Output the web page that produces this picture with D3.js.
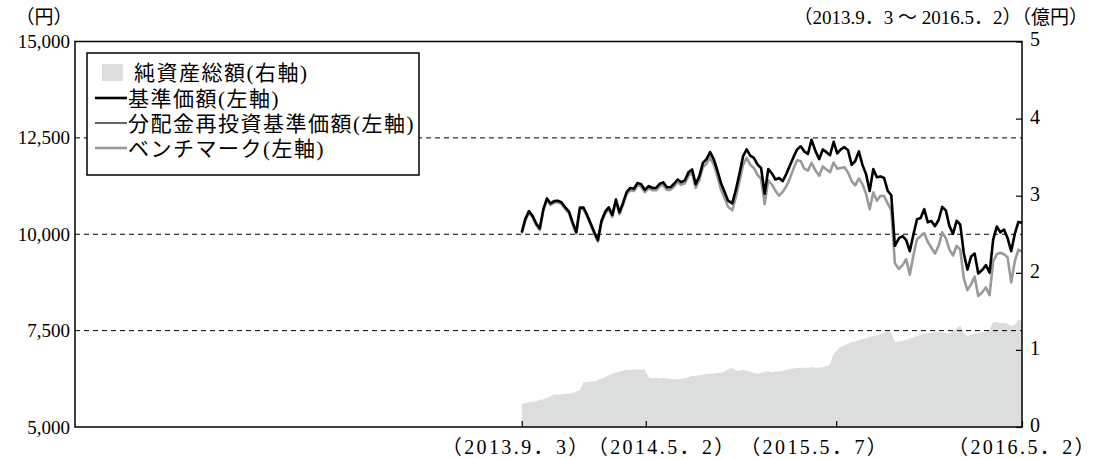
<!DOCTYPE html>
<html><head><meta charset="utf-8">
<script src="https://cdn.jsdelivr.net/npm/d3@7"></script>
<style>
body{margin:0;background:#fff;}
</style></head><body>
<svg id="c" width="1101" height="459"></svg>
<script>
// ---- data (weekly points, 2013.9.3 – 2016.5.2) ----
const firstDate = "2013-09-03";
const lastDate = "2016-05-02";
const baseValues = [10050,10400,10600,10480,10280,10150,10650,10930,10800,10860,10870,10830,10690,10580,10300,10060,10690,10695,10500,10280,10050,9850,10350,10580,10700,10500,10900,10570,10820,11100,11200,11180,11330,11300,11150,11250,11200,11200,11310,11345,11220,11220,11310,11420,11350,11400,11605,11680,11300,11500,11850,11950,12130,11950,11660,11330,11100,10870,10800,11150,11570,12020,12200,12040,11980,11810,11720,11050,11690,11580,11420,11460,11380,11560,11780,12000,12200,12280,12150,12080,12450,12150,11950,12200,12130,12050,12400,12100,12200,12260,12180,11800,11900,12150,11800,11560,11120,11690,11480,11500,11460,11130,11010,9700,9900,9950,9850,9560,9990,10390,10420,10650,10310,10345,10210,10370,10710,10620,10210,10010,10350,10250,9500,9080,9420,9500,8980,9080,9200,9000,9860,10200,10050,10120,9900,9560,10010,10320,10300];
const reinvestedValues = [10050,10400,10600,10480,10280,10150,10650,10930,10800,10860,10870,10830,10690,10580,10300,10060,10690,10695,10500,10280,10050,9850,10350,10580,10700,10500,10900,10570,10820,11100,11200,11180,11330,11300,11150,11250,11200,11200,11310,11345,11220,11220,11310,11420,11350,11400,11605,11680,11300,11500,11850,11950,12130,11950,11660,11330,11100,10870,10800,11150,11570,12020,12200,12040,11980,11810,11720,11050,11690,11580,11420,11460,11380,11560,11780,12000,12200,12280,12150,12080,12450,12150,11950,12200,12130,12050,12400,12100,12200,12260,12180,11800,11900,12150,11800,11560,11120,11690,11480,11500,11460,11130,11010,9700,9900,9950,9850,9560,9990,10390,10420,10650,10310,10345,10210,10370,10710,10620,10210,10010,10350,10250,9500,9080,9420,9500,8980,9080,9200,9000,9860,10200,10050,10120,9900,9560,10010,10320,10300];
const benchmarkValues = [10020,10360,10560,10440,10240,10110,10610,10890,10760,10820,10830,10790,10650,10540,10260,10020,10650,10650,10460,10240,10010,9810,10300,10530,10650,10450,10850,10520,10770,11050,11140,11120,11270,11240,11090,11190,11140,11140,11250,11280,11150,11150,11240,11350,11280,11320,11520,11590,11200,11400,11740,11830,11990,11810,11510,11170,10940,10710,10620,10960,11370,11800,11980,11800,11720,11540,11440,10780,11400,11290,11130,11000,11100,11240,11450,11700,11920,11900,11700,11650,11850,11650,11520,11760,11680,11610,11860,11700,11720,11740,11600,11380,11270,11450,11300,11050,10650,11085,10870,11000,10990,10800,10620,9250,9100,9200,9350,8950,9450,9870,9950,10030,9800,9650,9500,9700,10050,9900,9600,9450,9700,9600,8850,8550,8700,8900,8400,8500,8620,8420,9300,9480,9520,9480,9400,8750,9300,9600,9550];
const netAssetValues = [0.30,0.31,0.32,0.33,0.33,0.35,0.36,0.38,0.40,0.42,0.42,0.42,0.43,0.43,0.44,0.46,0.47,0.58,0.58,0.59,0.59,0.61,0.63,0.645,0.67,0.69,0.71,0.72,0.73,0.74,0.74,0.745,0.745,0.745,0.745,0.64,0.635,0.635,0.63,0.635,0.63,0.625,0.62,0.62,0.625,0.635,0.645,0.66,0.665,0.67,0.68,0.685,0.69,0.695,0.70,0.705,0.72,0.75,0.77,0.73,0.73,0.745,0.73,0.715,0.70,0.69,0.70,0.715,0.72,0.71,0.72,0.72,0.73,0.74,0.755,0.76,0.765,0.77,0.77,0.77,0.775,0.77,0.77,0.775,0.79,0.81,0.95,1.00,1.04,1.06,1.08,1.10,1.11,1.13,1.14,1.15,1.17,1.18,1.19,1.20,1.22,1.24,1.22,1.10,1.11,1.12,1.13,1.15,1.16,1.18,1.20,1.21,1.22,1.22,1.23,1.23,1.23,1.22,1.21,1.24,1.28,1.32,1.22,1.18,1.20,1.21,1.22,1.23,1.23,1.27,1.36,1.36,1.35,1.35,1.34,1.31,1.33,1.39,1.39];
const leftTicks = [5000,7500,10000,12500,15000];
const rightTicks = [0,1,2,3,4,5];
const gridValues = [7500,10000,12500];
const xTickDates = ["2013-09-03","2014-05-02","2015-05-07","2016-05-02"];
const xTickLabels = ["（2013.9．3）","（2014.5．2）","（2015.5．7）","（2016.5．2）"];
const legendItems = ["純資産総額(右軸)","基準価額(左軸)","分配金再投資基準価額(左軸)","ベンチマーク(左軸)"];
const leftUnit = "（円）";
const rightHeader = "（2013.9．3 ～ 2016.5．2）（億円）";

// ---- layout ----
const FONT = "'Liberation Serif','DejaVu Serif','Noto Sans CJK JP',serif";
const L = 75, R = 1022, T = 41.5, B = 427;
const parse = d3.timeParse("%Y-%m-%d");
const d0 = parse(firstDate), d1 = parse(lastDate);
const span = d3.timeDay.count(d0, d1);
const n = baseValues.length;
const dates = d3.range(n).map(i => d3.timeDay.offset(d0, Math.round(i * span / (n - 1))));

const x = d3.scaleTime().domain([parse("2011-04-19"), d1]).range([L, R]);
const y = d3.scaleLinear().domain([5000, 15000]).range([B, T]);
const y2 = d3.scaleLinear().domain([0, 5]).range([B, T]);

const svg = d3.select("#c");

// area
svg.append("path")
  .datum(netAssetValues)
  .attr("fill", "#dcdddd")
  .attr("d", d3.area().x((d,i)=>x(dates[i])).y0(y2(0)).y1(d=>y2(d)));

// grid
svg.selectAll("line.grid").data(gridValues).enter().append("line")
  .attr("x1", L).attr("x2", R).attr("y1", d=>y(d)).attr("y2", d=>y(d))
  .attr("stroke", "#000").attr("stroke-width", 1).attr("stroke-dasharray", "5,4");

// lines
const line = vals => d3.line().x((d,i)=>x(dates[i])).y(d=>y(d))(vals);
svg.append("path").attr("d", line(benchmarkValues)).attr("fill","none").attr("stroke","#9a9a9a").attr("stroke-width",2.6).attr("stroke-linejoin","round");
svg.append("path").attr("d", line(baseValues)).attr("fill","none").attr("stroke","#000").attr("stroke-width",2.6).attr("stroke-linejoin","round");
svg.append("path").attr("d", line(reinvestedValues)).attr("fill","none").attr("stroke","#000").attr("stroke-width",1).attr("stroke-linejoin","round");

// frame
svg.append("rect").attr("x", L).attr("y", T).attr("width", R-L).attr("height", B-T)
  .attr("fill","none").attr("stroke","#000").attr("stroke-width",1.5);

// left axis
const gl = svg.append("g").attr("transform", `translate(${L},0)`)
  .call(d3.axisLeft(y).tickValues(leftTicks).tickFormat(d3.format(",")).tickSize(0).tickPadding(5));
gl.select(".domain").remove();
gl.selectAll("text").style("font-family", FONT).style("font-size", "19px").style("fill","#000");

// right axis
const gr = svg.append("g").attr("transform", `translate(${R},0)`)
  .call(d3.axisRight(y2).tickValues(rightTicks).tickFormat(d3.format("d")).tickSize(-6).tickPadding(8));
gr.select(".domain").remove();
gr.selectAll("line").attr("stroke","#000").attr("stroke-width",1.2);
gr.selectAll("text").style("font-family", FONT).style("font-size", "20px").style("fill","#000").attr("dy","0.22em");

// bottom axis
const labelShift = [-6, 16, -22, 0];
const tickDates = xTickDates.map(parse);
const gb = svg.append("g").attr("transform", `translate(0,${B})`)
  .call(d3.axisBottom(x).tickValues(tickDates).tickFormat((d,i)=>xTickLabels[i]).tickSize(-6).tickPadding(13));
gb.select(".domain").remove();
gb.selectAll("line").attr("stroke","#000").attr("stroke-width",1.2);
gb.selectAll("text").style("font-family", FONT).style("font-size", "20px").style("letter-spacing","2.4px")
  .style("fill","#000").attr("dx",(d,i)=>labelShift[i]);

// headers
svg.append("text").attr("x", 44).attr("y", 24).attr("text-anchor","middle")
  .style("font-family", FONT).style("font-size","19px").text(leftUnit);
svg.append("text").attr("x", 1088).attr("y", 24).attr("text-anchor","end")
  .style("font-family", FONT).style("font-size","19px").text(rightHeader);

// legend
const lg = svg.append("g");
lg.append("rect").attr("x", 87).attr("y", 53).attr("width", 332).attr("height", 122)
  .attr("fill","#fff").attr("stroke","#000").attr("stroke-width",1.5);
const rowY = [72, 98, 123, 148];
lg.append("rect").attr("x", 102).attr("y", rowY[0]-8).attr("width", 21).attr("height", 17).attr("fill","#dcdddd");
const sw = [{c:"#000",w:2.6},{c:"#000",w:1.2},{c:"#9a9a9a",w:2.6}];
sw.forEach((s,i)=>{
  lg.append("line").attr("x1",95).attr("x2",127).attr("y1",rowY[i+1]).attr("y2",rowY[i+1])
    .attr("stroke",s.c).attr("stroke-width",s.w);
});
legendItems.forEach((t,i)=>{
  lg.append("text").attr("x", i===0?134:128).attr("y", rowY[i]).attr("dy","0.36em")
    .style("font-family", FONT).style("font-size","21px").style("letter-spacing","1.5px").text(t);
});
</script>
</body></html>
